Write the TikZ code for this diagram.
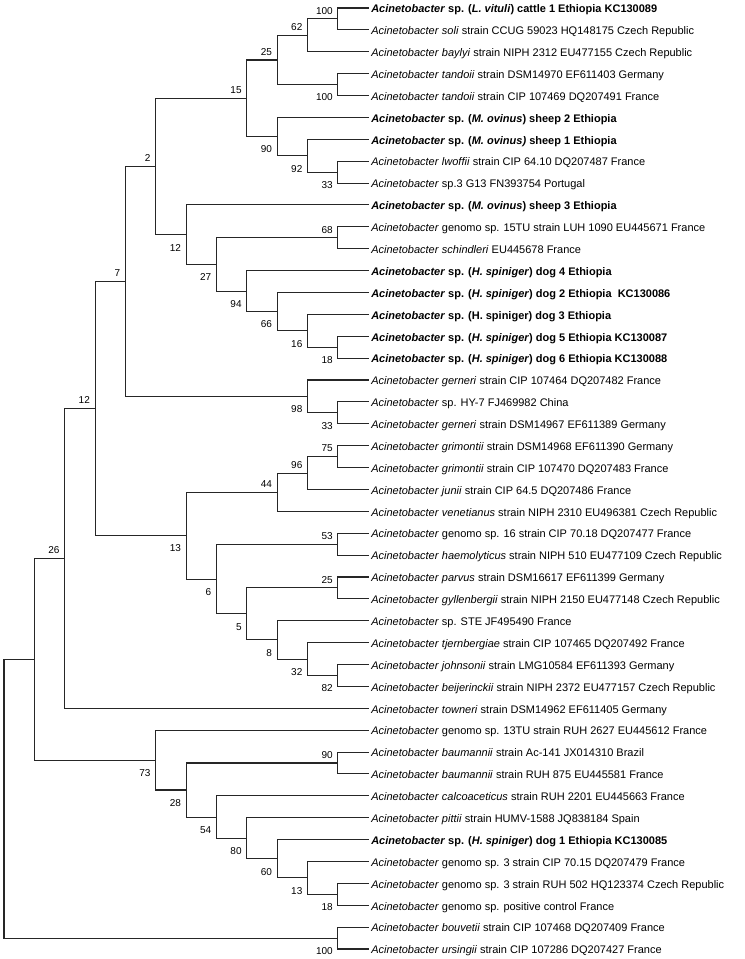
\documentclass[tikz,border=0pt]{standalone}
\usepackage{fontspec}
\setmainfont{Liberation Sans}
\usetikzlibrary{calc}
\newcommand\Ac{\textit{Acinetobacter}}
\newcommand\inode[4]{%
  \coordinate (#1-m) at ($(#3)!0.5!(#4)$);
  \coordinate (#1) at (c#2 |- #1-m);
  \draw[br] (#1) |- (#3);
  \draw[br] (#1) |- (#4);}
\newcommand\bsa[2]{\node[bs,anchor=south east] (b#1) at ([shift={(-5,-4.5)}]#1) {#2};}
\newcommand\bsb[2]{\node[bs,anchor=north east] (b#1) at ([shift={(-5,6.5)}]#1) {#2};}
\begin{document}
\begin{tikzpicture}[x=0.75pt,y=-0.75pt,
  br/.style={line width=0.8pt,draw=black!85},
  leaf/.style={anchor=west,inner xsep=1.5pt,inner ysep=0pt,font=\fontsize{8.25pt}{9pt}\selectfont,text height=0.716em,text depth=0pt},
  bs/.style={inner sep=0pt,font=\fontsize{7.5pt}{8pt}\selectfont,text height=0.716em,text depth=0pt}]
\useasboundingbox (0,0) rectangle (745,959);
\foreach \k in {0,...,12}{\coordinate (c\k) at ({4+30.36*\k},0);}
\foreach \i/\t in {
1/{\textbf{\Ac{} sp. (\textit{L. vituli}) cattle 1 Ethiopia KC130089}},
2/{\Ac{} \textit{soli} strain CCUG 59023 HQ148175 Czech Republic},
3/{\Ac{} \textit{baylyi} strain NIPH 2312 EU477155 Czech Republic},
4/{\Ac{} \textit{tandoii} strain DSM14970 EF611403 Germany},
5/{\Ac{} \textit{tandoii} strain CIP 107469 DQ207491 France},
6/{\textbf{\Ac{} sp. (\textit{M. ovinus}) sheep 2 Ethiopia}},
7/{\textbf{\Ac{} sp. (\textit{M. ovinus)} sheep 1 Ethiopia}},
8/{\Ac{} \textit{lwoffii} strain CIP 64.10 DQ207487 France},
9/{\Ac{} sp.3 G13 FN393754 Portugal},
10/{\textbf{\Ac{} sp. (\textit{M. ovinus}) sheep 3 Ethiopia}},
11/{\Ac{} genomo sp. 15TU strain LUH 1090 EU445671 France},
12/{\Ac{} \textit{schindleri} EU445678 France},
13/{\textbf{\Ac{} sp. (\textit{H. spiniger}) dog 4 Ethiopia}},
14/{\textbf{\Ac{} sp. (\textit{H. spiniger}) dog 2 Ethiopia\ \ KC130086}},
15/{\textbf{\Ac{} sp. (H. spiniger) dog 3 Ethiopia}},
16/{\textbf{\Ac{} sp. (\textit{H. spiniger}) dog 5 Ethiopia KC130087}},
17/{\textbf{\Ac{} sp. (\textit{H. spiniger}) dog 6 Ethiopia KC130088}},
18/{\Ac{} \textit{gerneri} strain CIP 107464 DQ207482 France},
19/{\Ac{} sp. HY-7 FJ469982 China},
20/{\Ac{} \textit{gerneri} strain DSM14967 EF611389 Germany},
21/{\Ac{} \textit{grimontii} strain DSM14968 EF611390 Germany},
22/{\Ac{} \textit{grimontii} strain CIP 107470 DQ207483 France},
23/{\Ac{} \textit{junii} strain CIP 64.5 DQ207486 France},
24/{\Ac{} \textit{venetianus} strain NIPH 2310 EU496381 Czech Republic},
25/{\Ac{} genomo sp. 16 strain CIP 70.18 DQ207477 France},
26/{\Ac{} \textit{haemolyticus} strain NIPH 510 EU477109 Czech Republic},
27/{\Ac{} \textit{parvus} strain DSM16617 EF611399 Germany},
28/{\Ac{} \textit{gyllenbergii} strain NIPH 2150 EU477148 Czech Republic},
29/{\Ac{} sp. STE JF495490 France},
30/{\Ac{} \textit{tjernbergiae} strain CIP 107465 DQ207492 France},
31/{\Ac{} \textit{johnsonii} strain LMG10584 EF611393 Germany},
32/{\Ac{} \textit{beijerinckii} strain NIPH 2372 EU477157 Czech Republic},
33/{\Ac{} \textit{towneri} strain DSM14962 EF611405 Germany},
34/{\Ac{} genomo sp. 13TU strain RUH 2627 EU445612 France},
35/{\Ac{} \textit{baumannii} strain Ac-141 JX014310 Brazil},
36/{\Ac{} \textit{baumannii} strain RUH 875 EU445581 France},
37/{\Ac{} \textit{calcoaceticus} strain RUH 2201 EU445663 France},
38/{\Ac{} \textit{pittii} strain HUMV-1588 JQ838184 Spain},
39/{\textbf{\Ac{} sp. (\textit{H. spiniger}) dog 1 Ethiopia KC130085}},
40/{\Ac{} genomo sp. 3 strain CIP 70.15 DQ207479 France},
41/{\Ac{} genomo sp. 3 strain RUH 502 HQ123374 Czech Republic},
42/{\Ac{} genomo sp. positive control France},
43/{\Ac{} \textit{bouvetii} strain CIP 107468 DQ207409 France},
44/{\Ac{} \textit{ursingii} strain CIP 107286 DQ207427 France}}
{\node[leaf] (l\i) at (369,{8+(\i-1)*21.884}) {\t};}
% internal nodes
\inode{A}{11}{l1}{l2} \bsa{A}{100}
\inode{B}{10}{A}{l3} \bsa{B}{62}
\inode{C}{11}{l4}{l5} \bsb{C}{100}
\inode{D}{9}{B}{C} \bsa{D}{25}
\inode{E}{11}{l8}{l9} \bsb{E}{33}
\inode{F}{10}{l7}{E} \bsb{F}{92}
\inode{G}{9}{l6}{F} \bsb{G}{90}
\inode{H}{8}{D}{G} \bsa{H}{15}
\inode{I}{11}{l11}{l12} \bsa{I}{68}
\inode{J}{11}{l16}{l17} \bsb{J}{18}
\inode{K}{10}{l15}{J} \bsb{K}{16}
\inode{L}{9}{l14}{K} \bsb{L}{66}
\inode{M}{8}{l13}{L} \bsb{M}{94}
\inode{N}{7}{I}{M} \bsb{N}{27}
\inode{O}{6}{l10}{N} \bsb{O}{12}
\inode{P}{5}{H}{O} \bsa{P}{2}
\inode{Q}{11}{l19}{l20} \bsb{Q}{33}
\inode{R}{10}{l18}{Q} \bsb{R}{98}
\inode{S}{4}{P}{R} \bsa{S}{7}
\inode{U}{11}{l21}{l22} \bsa{U}{75}
\inode{V}{10}{U}{l23} \bsa{V}{96}
\inode{W}{9}{V}{l24} \bsa{W}{44}
\inode{X}{11}{l25}{l26} \bsa{X}{53}
\inode{Y}{11}{l27}{l28} \bsa{Y}{25}
\inode{Z}{11}{l31}{l32} \bsb{Z}{82}
\inode{AA}{10}{l30}{Z} \bsb{AA}{32}
\inode{AB}{9}{l29}{AA} \bsb{AB}{8}
\inode{AC}{8}{Y}{AB} \bsb{AC}{5}
\inode{AD}{7}{X}{AC} \bsb{AD}{6}
\inode{AE}{6}{W}{AD} \bsb{AE}{13}
\inode{T}{3}{S}{AE} \bsa{T}{12}
\inode{AF}{2}{T}{l33} \bsa{AF}{26}
\inode{AG}{11}{l35}{l36} \bsa{AG}{90}
\inode{AH}{11}{l41}{l42} \bsb{AH}{18}
\inode{AI}{10}{l40}{AH} \bsb{AI}{13}
\inode{AJ}{9}{l39}{AI} \bsb{AJ}{60}
\inode{AK}{8}{l38}{AJ} \bsb{AK}{80}
\inode{AL}{7}{l37}{AK} \bsb{AL}{54}
\inode{AM}{6}{AG}{AL} \bsb{AM}{28}
\inode{AN}{5}{l34}{AM} \bsb{AN}{73}
\inode{AO}{1}{AF}{AN}
\inode{AP}{11}{l43}{l44} \bsb{AP}{100}
\inode{root}{0}{AO}{AP}
\end{tikzpicture}
\end{document}
